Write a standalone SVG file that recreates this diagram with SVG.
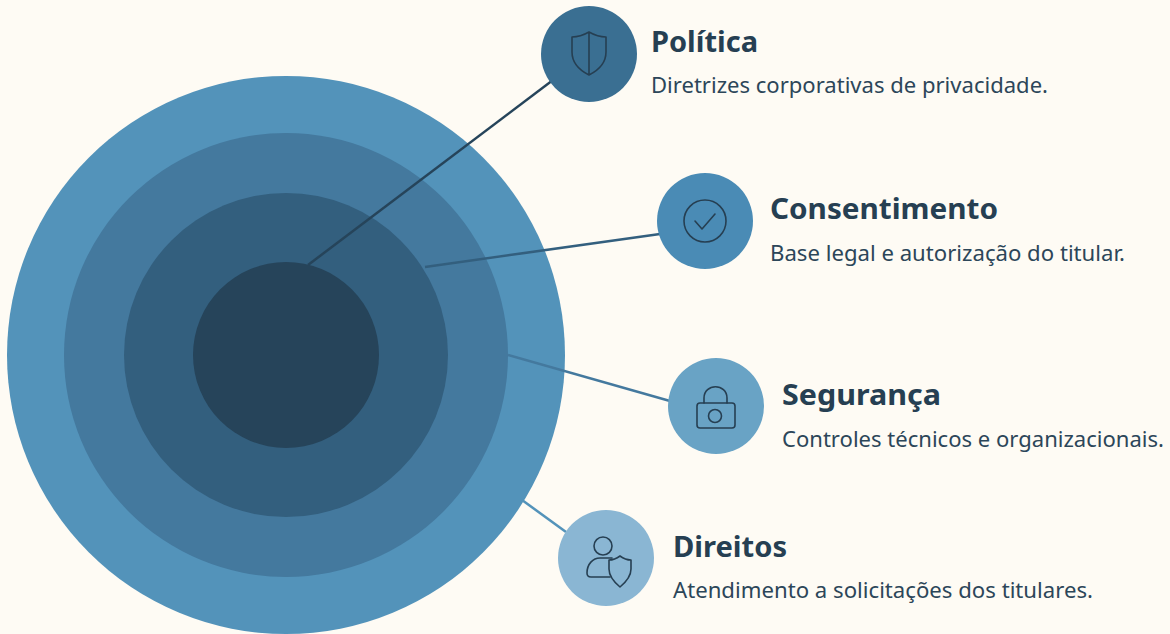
<svg xmlns="http://www.w3.org/2000/svg" width="1170" height="634" viewBox="0 0 1170 634">
<style>
.title{font-family:"Noto Sans","DejaVu Sans",sans-serif;font-weight:700;font-size:28px;fill:#263F52}
.desc{font-family:"Noto Sans","DejaVu Sans",sans-serif;font-size:21px;fill:#2C4659}
.icon{fill:none;stroke:#263F52;stroke-width:1.6;stroke-linecap:round;stroke-linejoin:round}
.conn{stroke-width:2.5;fill:none}
</style>
<rect width="1170" height="634" fill="#FEFBF4"/>
<g id="rings">
<circle cx="286" cy="355" r="279" fill="#5393BA"/>
<circle cx="286" cy="355" r="222" fill="#44799E"/>
<circle cx="286" cy="355" r="162" fill="#335F7E"/>
<circle cx="286" cy="355" r="93" fill="#26445A"/>
</g>
<g id="connectors">
<line class="conn" x1="308" y1="265" x2="553" y2="80" stroke="#26445A"/>
<line class="conn" x1="425" y1="267" x2="660" y2="234" stroke="#335F7E"/>
<line class="conn" x1="508" y1="355" x2="670" y2="401" stroke="#44799E"/>
<line class="conn" x1="522" y1="500" x2="566" y2="532" stroke="#5393BA"/>
</g>
<g id="politica">
<circle cx="589" cy="54" r="48" fill="#3A6F92"/>
<path class="icon" d="M589 32 C582 36 577 37 572 37 L572 52 C572 62 579 70 589 75 C599 70 606 62 606 52 L606 37 C601 37 596 36 589 32 Z M589 32 L589 75"/>
<text class="title" x="651" y="52" textLength="107" lengthAdjust="spacingAndGlyphs">Política</text>
<text class="desc" x="651" y="93" textLength="397" lengthAdjust="spacingAndGlyphs">Diretrizes corporativas de privacidade.</text>
</g>
<g id="consentimento">
<circle cx="705" cy="221" r="48" fill="#4A8BB5"/>
<circle class="icon" cx="705" cy="221" r="21"/>
<path class="icon" d="M695 221 L702 229 L715 214"/>
<text class="title" x="770" y="219" textLength="228" lengthAdjust="spacingAndGlyphs">Consentimento</text>
<text class="desc" x="770" y="261" textLength="355" lengthAdjust="spacingAndGlyphs">Base legal e autorização do titular.</text>
</g>
<g id="seguranca">
<circle cx="716" cy="406" r="48" fill="#69A3C5"/>
<rect class="icon" x="697" y="403" width="38" height="25" rx="3"/>
<path class="icon" d="M704 403 L704 398 C704 383 727 383 727 398 L727 403"/>
<circle class="icon" cx="715" cy="416" r="6.5"/>
<text class="title" x="782" y="405" textLength="159" lengthAdjust="spacingAndGlyphs">Segurança</text>
<text class="desc" x="782" y="447" textLength="382" lengthAdjust="spacingAndGlyphs">Controles técnicos e organizacionais.</text>
</g>
<g id="direitos">
<circle cx="606" cy="558" r="48" fill="#8AB6D3"/>
<circle class="icon" cx="603" cy="546" r="9"/>
<path class="icon" d="M610 577 L591 577 C588 577 587 575 587 573 C587 564 593 558 600 558 L612 558"/>
<path class="icon" d="M620 556 C616 559 613 560 609 560 L609 569 C609 576 614 582 620 587 C626 582 631 576 631 569 L631 560 C627 560 624 559 620 556 Z"/>
<text class="title" x="673" y="557" textLength="114" lengthAdjust="spacingAndGlyphs">Direitos</text>
<text class="desc" x="673" y="598" textLength="420" lengthAdjust="spacingAndGlyphs">Atendimento a solicitações dos titulares.</text>
</g>
</svg>
